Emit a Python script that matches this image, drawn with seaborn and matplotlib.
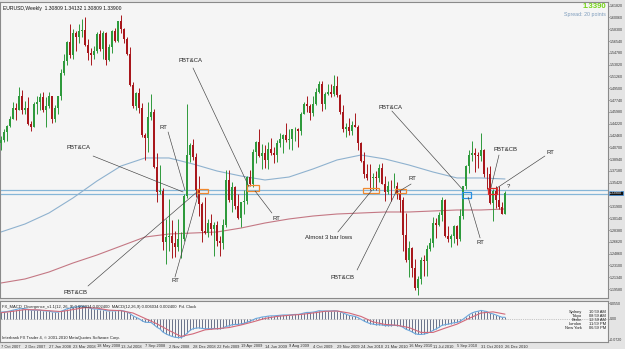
import numpy as np
import pandas as pd
import matplotlib
matplotlib.use("Agg")
import matplotlib.pyplot as plt
import matplotlib.transforms as mtransforms
from matplotlib.patches import Rectangle
import seaborn as sns

# ---------------- data (EURUSD weekly) ----------------
opens = [
1.4130,1.4185,1.4295,1.4390,1.4500,1.4660,1.4630,1.4830,1.4630,1.4650,
1.4420,1.4380,1.4720,1.4750,1.4815,1.4620,1.4680,1.4830,1.4500,1.4660,
1.4830,1.5180,1.5350,1.5640,1.5440,1.5780,1.5720,1.5800,1.5820,1.5600,
1.5470,1.5450,1.5500,1.5760,1.5530,1.5780,1.5370,1.5560,1.5800,1.5650,
1.5950,1.5840,1.5690,1.5460,1.5000,1.4680,1.4880,1.4660,1.4250,1.4210,
1.4520,1.4600,1.3780,1.3410,1.3420,1.2660,1.2740,1.2750,1.2650,1.2590,
1.2700,1.2710,1.3340,1.3950,1.4100,1.3920,1.3440,1.3220,1.2830,1.2800,
1.2950,1.2860,1.2920,1.2670,1.2650,1.2920,1.3580,1.3280,1.3480,1.3200,
1.3020,1.3250,1.3270,1.3630,1.3520,1.4000,1.4150,1.3940,1.3980,1.3880,
1.4040,1.3980,1.3950,1.4130,1.4200,1.4250,1.4180,1.4200,1.4340,1.4350,
1.4310,1.4570,1.4710,1.4680,1.4580,1.4710,1.4900,1.5010,1.4720,1.4870,
1.4900,1.4860,1.4990,1.4850,1.4600,1.4340,1.4380,1.4320,1.4410,1.4380,
1.4140,1.3860,1.3670,1.3620,1.3610,1.3630,1.3620,1.3760,1.3530,1.3400,
1.3500,1.3490,1.3500,1.3380,1.3290,1.2760,1.2390,1.2570,1.2270,1.1970,
1.2110,1.2390,1.2380,1.2560,1.2640,1.2940,1.2910,1.3060,1.3280,1.2750,
1.2710,1.2750,1.2900,1.2710,1.3050,1.3490,1.3790,1.3960,1.3980,1.3950,
1.3940,1.4030,1.3680,1.3670,1.3240,1.3420,1.3290,1.3180,1.3081]
highs = [
1.4240,1.4350,1.4400,1.4530,1.4752,1.4730,1.4967,1.4920,1.4760,1.4815,
1.4470,1.4740,1.4830,1.4875,1.4900,1.4820,1.4890,1.4840,1.4700,1.4840,
1.5240,1.5460,1.5650,1.5904,1.5840,1.5810,1.5910,1.5985,1.6019,1.5690,
1.5550,1.5580,1.5790,1.5820,1.5800,1.5790,1.5610,1.5820,1.5850,1.5960,
1.6038,1.5850,1.5710,1.5570,1.5050,1.4900,1.4950,1.4730,1.4280,1.4740,
1.4867,1.4640,1.3980,1.3800,1.3460,1.3000,1.3300,1.2990,1.2820,1.3000,
1.2810,1.3370,1.4720,1.4130,1.4200,1.3990,1.3650,1.3250,1.3330,1.3000,
1.3070,1.2960,1.2980,1.2750,1.3000,1.3738,1.3740,1.3560,1.3500,1.3370,
1.3260,1.3430,1.3650,1.3740,1.4050,1.4160,1.4340,1.4120,1.4100,1.4150,
1.4210,1.4070,1.4180,1.4280,1.4270,1.4440,1.4340,1.4350,1.4380,1.4360,
1.4590,1.4740,1.4840,1.4720,1.4840,1.4950,1.5060,1.5060,1.4890,1.5020,
1.5010,1.5144,1.5140,1.4860,1.4700,1.4440,1.4510,1.4460,1.4580,1.4400,
1.4150,1.4000,1.3820,1.3820,1.3690,1.3720,1.3820,1.3830,1.3640,1.3570,
1.3590,1.3694,1.3560,1.3440,1.3330,1.3094,1.2670,1.2590,1.2400,1.2160,
1.2430,1.2470,1.2620,1.2720,1.3030,1.3020,1.3110,1.3330,1.3300,1.2900,
1.2780,1.2920,1.2920,1.3150,1.3500,1.3800,1.4030,1.4160,1.4060,1.4000,
1.4282,1.4050,1.3770,1.3790,1.3450,1.3500,1.3500,1.3250,1.3413]
lows = [
1.4030,1.4150,1.4170,1.4380,1.4490,1.4480,1.4620,1.4560,1.4560,1.4400,
1.4310,1.4370,1.4570,1.4630,1.4590,1.4370,1.4650,1.4440,1.4450,1.4570,
1.4780,1.5150,1.5290,1.5400,1.5390,1.5500,1.5620,1.5720,1.5580,1.5370,
1.5290,1.5380,1.5470,1.5500,1.5380,1.5300,1.5350,1.5470,1.5640,1.5640,
1.5780,1.5620,1.5440,1.4990,1.4660,1.4620,1.4580,1.4220,1.3880,1.4000,
1.4480,1.3760,1.3260,1.3370,1.2540,1.2330,1.2520,1.2420,1.2430,1.2520,
1.2420,1.2670,1.3320,1.3850,1.3880,1.3330,1.3050,1.2660,1.2780,1.2740,
1.2760,1.2455,1.2600,1.2455,1.2550,1.2890,1.3250,1.3110,1.3150,1.3000,
1.2890,1.3080,1.3220,1.3500,1.3480,1.3840,1.3920,1.3750,1.3760,1.3750,
1.3960,1.3830,1.3850,1.4070,1.3980,1.4150,1.4050,1.4030,1.4170,1.4080,
1.4260,1.4560,1.4590,1.4480,1.4540,1.4700,1.4880,1.4610,1.4640,1.4850,
1.4820,1.4830,1.4820,1.4570,1.4300,1.4220,1.4260,1.4260,1.4370,1.4030,
1.3850,1.3610,1.3580,1.3440,1.3440,1.3440,1.3560,1.3520,1.3270,1.3380,
1.3270,1.3470,1.3300,1.3114,1.2523,1.2355,1.2143,1.2140,1.1940,1.1876,
1.2040,1.2150,1.2150,1.2520,1.2580,1.2720,1.2900,1.2980,1.2730,1.2660,
1.2590,1.2650,1.2610,1.2680,1.3000,1.3450,1.3690,1.3860,1.3700,1.3760,
1.3860,1.3630,1.3450,1.3220,1.2969,1.3170,1.3150,1.3070,1.3081]
closes = [
1.4185,1.4295,1.4390,1.4500,1.4660,1.4630,1.4830,1.4630,1.4650,1.4420,
1.4380,1.4720,1.4750,1.4815,1.4620,1.4680,1.4830,1.4500,1.4660,1.4830,
1.5180,1.5350,1.5640,1.5440,1.5780,1.5720,1.5800,1.5820,1.5600,1.5470,
1.5450,1.5500,1.5760,1.5530,1.5780,1.5370,1.5560,1.5800,1.5650,1.5950,
1.5840,1.5690,1.5460,1.5000,1.4680,1.4880,1.4660,1.4250,1.4210,1.4520,
1.4600,1.3780,1.3410,1.3420,1.2660,1.2740,1.2750,1.2650,1.2590,1.2700,
1.2710,1.3340,1.3950,1.4100,1.3920,1.3440,1.3220,1.2830,1.2800,1.2950,
1.2860,1.2920,1.2670,1.2650,1.2920,1.3580,1.3280,1.3480,1.3200,1.3020,
1.3250,1.3270,1.3630,1.3520,1.4000,1.4150,1.3940,1.3980,1.3880,1.4040,
1.3980,1.3950,1.4130,1.4200,1.4250,1.4180,1.4200,1.4340,1.4350,1.4310,
1.4570,1.4710,1.4680,1.4580,1.4710,1.4900,1.5010,1.4720,1.4870,1.4900,
1.4860,1.4990,1.4850,1.4600,1.4340,1.4380,1.4320,1.4410,1.4380,1.4140,
1.3860,1.3670,1.3620,1.3610,1.3630,1.3620,1.3760,1.3530,1.3400,1.3500,
1.3490,1.3500,1.3380,1.3290,1.2760,1.2390,1.2570,1.2270,1.1970,1.2110,
1.2390,1.2380,1.2560,1.2640,1.2940,1.2910,1.3060,1.3280,1.2750,1.2710,
1.2750,1.2900,1.2710,1.3050,1.3490,1.3790,1.3960,1.3980,1.3950,1.3940,
1.4030,1.3680,1.3670,1.3240,1.3420,1.3290,1.3180,1.3081,1.3390]

week_labels = ["7 Oct 2007", "2 Dec 2007", "27 Jan 2008", "23 Mar 2008", "18 May 2008",
               "13 Jul 2008", "7 Sep 2008", "2 Nov 2008", "28 Dec 2008", "22 Feb 2009",
               "19 Apr 2009", "14 Jun 2009", "9 Aug 2009", "4 Oct 2009", "29 Nov 2009",
               "24 Jan 2010", "21 Mar 2010", "16 May 2010", "11 Jul 2010", "5 Sep 2010",
               "31 Oct 2010", "26 Dec 2010"]
label_weeks = [0, 8, 16, 24, 32, 40, 48, 56, 64, 72, 80, 88, 96, 104, 112, 120,
               128, 136, 144, 152, 160, 168]

# moving averages read every 8 weeks
ma_weeks = label_weeks
ma_blue = [1.2809, 1.2928, 1.3092, 1.3316, 1.3569, 1.3792, 1.3912, 1.3912, 1.3822, 1.3718,
           1.3643, 1.3584, 1.3628, 1.3748, 1.3882, 1.3956, 1.3897, 1.3807, 1.3703, 1.3614,
           1.3614, 1.3599]
ma_red = [1.2049, 1.2109, 1.2213, 1.2347, 1.2466, 1.2600, 1.2734, 1.2779, 1.2794, 1.2809,
          1.2868, 1.2943, 1.3003, 1.3047, 1.3077, 1.3092, 1.3107, 1.3107, 1.3122, 1.3137,
          1.3137, 1.3152]

# MACD panel
macd = [
0.024,0.025,0.026,0.028,0.031,0.033,0.036,0.036,0.036,0.034,
0.031,0.031,0.031,0.031,0.029,0.028,0.028,0.025,0.024,0.024,
0.027,0.031,0.036,0.038,0.041,0.042,0.044,0.045,0.043,0.040,
0.037,0.035,0.035,0.033,0.033,0.029,0.028,0.029,0.028,0.030,
0.030,0.028,0.025,0.019,0.011,0.006,0.001,-0.006,-0.011,-0.012,
-0.012,-0.020,-0.029,-0.035,-0.046,-0.052,-0.057,-0.061,-0.064,-0.065,
-0.065,-0.060,-0.050,-0.040,-0.034,-0.032,-0.031,-0.033,-0.034,-0.034,
-0.034,-0.033,-0.034,-0.034,-0.032,-0.026,-0.024,-0.020,-0.019,-0.019,
-0.017,-0.015,-0.011,-0.008,-0.003,0.002,0.004,0.007,0.008,0.010,
0.011,0.011,0.012,0.013,0.014,0.014,0.014,0.015,0.016,0.016,
0.018,0.021,0.023,0.023,0.024,0.026,0.029,0.028,0.028,0.028,
0.028,0.029,0.028,0.026,0.021,0.017,0.013,0.011,0.009,0.005,
-0.001,-0.007,-0.012,-0.016,-0.018,-0.020,-0.020,-0.021,-0.023,-0.023,
-0.023,-0.022,-0.023,-0.024,-0.029,-0.036,-0.040,-0.045,-0.051,-0.054,
-0.054,-0.053,-0.050,-0.046,-0.040,-0.035,-0.029,-0.022,-0.020,-0.018,
-0.016,-0.013,-0.012,-0.008,-0.001,0.007,0.015,0.021,0.025,0.027,
0.030,0.028,0.026,0.020,0.018,0.014,0.010,0.006,0.006]
signal_weeks = list(range(0, 169, 4))
signal = [0.022, 0.027, 0.033, 0.032, 0.029, 0.026, 0.033, 0.040, 0.038, 0.031,
          0.029, 0.021, 0.002, -0.017, -0.040, -0.061, -0.052, -0.038, -0.034, -0.030,
          -0.021, -0.010, 0.002, 0.009, 0.013, 0.016, 0.021, 0.027, 0.028, 0.021,
          0.009, -0.010, -0.019, -0.022, -0.030, -0.047, -0.047, -0.032, -0.018, 0.002,
          0.021, 0.025, 0.017]

price_ticks = [1.19580, 1.21340, 1.23100, 1.24860, 1.26620, 1.28380, 1.30140, 1.31900,
               1.35420, 1.37180, 1.38940, 1.40700, 1.42460, 1.44220, 1.45980, 1.47740,
               1.49500, 1.51260, 1.53020, 1.54780, 1.56540, 1.58300, 1.60060, 1.61820]
price_tick_labels = ["%.5f" % v for v in price_ticks]
current_price = 1.33900
zone_levels = [1.3435, 1.3375]

boxes = [  # (week from, week to, price low, price high, colour)
    (65.3, 69.0, 1.3390, 1.3450, '#f08a30'),
    (82.0, 86.0, 1.3420, 1.3510, '#f08a30'),
    (120.7, 126.0, 1.3390, 1.3465, '#f08a30'),
    (131.3, 135.0, 1.3390, 1.3450, '#f08a30'),
    (153.7, 156.7, 1.3315, 1.3405, '#2a8fe0'),
    (162.3, 165.3, 1.3375, 1.3465, '#e02a2a'),
]
notes = [  # text, text week, text price, line from (week, price), line to (week, price)
    ("PBT&CA", 26.0, 1.4075, (30.7, 1.3941), (60.7, 1.3405)),
    ("RT", 54.0, 1.4373, (55.7, 1.4299), (61.3, 1.3435)),
    ("PBT&CB", 25.0, 1.1900, (29.0, 1.2004), (65.3, 1.3405)),
    ("RT", 58.3, 1.2079, (58.0, 1.2138), (65.7, 1.3360)),
    ("PBT&CA", 63.3, 1.5357, (64.0, 1.5253), (82.7, 1.3479)),
    ("RT", 91.7, 1.3017, (90.3, 1.3092), (84.7, 1.3420)),
    ("Almost 3 bar lows", 109.3, 1.2720, (112.3, 1.2809), (123.7, 1.3435)),
    ("PBT&CB", 113.7, 1.2138, (118.7, 1.2243), (132.0, 1.3435)),
    ("RT", 137.3, 1.3599, (136.7, 1.3524), (132.3, 1.3405)),
    ("PBT&CA", 129.7, 1.4671, (130.3, 1.4612), (153.7, 1.3450)),
    ("RT", 159.7, 1.2645, (159.7, 1.2720), (155.7, 1.3330)),
    ("PBT&CB", 168.3, 1.4031, (166.0, 1.3956), (163.3, 1.3465)),
    ("RT", 183.0, 1.3986, (181.3, 1.3941), (165.3, 1.3465)),
    ("?", 169.3, 1.3480, None, None),
]
clock_names = ["Sydney", "Tokyo", "Berlin", "London", "New York"]
clock_times = ["10:59 AM", "08:59 AM", "12:59 AM", "11:59 PM", "06:59 PM"]

# ---------------- drawing ----------------
sns.set_style("white")
plt.rcParams['font.family'] = ['Liberation Sans', 'DejaVu Sans']

W, H = 625, 349
RIGHT = 608
def fx(px):
    return px / W
def fy(py):
    return 1 - py / H

UP, DOWN = '#2e9a3c', '#a8171c'
BG = '#f5f5f5'

fig = plt.figure(figsize=(W / 100, H / 100), dpi=100, facecolor='#e4e4e4')
ax = fig.add_axes([0, fy(298), fx(RIGHT), (298 - 2) / H], facecolor=BG)
axm = fig.add_axes([0, fy(342), fx(RIGHT), (342 - 301) / H], facecolor=BG)
xmax = -0.33 + RIGHT / 3

df = pd.DataFrame({'week': np.arange(len(closes)), 'open': opens, 'high': highs,
                   'low': lows, 'close': closes})
cols = np.where(df['close'] >= df['open'], UP, DOWN)
ax.vlines(df['week'], df['low'], df['high'], colors=cols, linewidth=0.7, zorder=3)
body_bottom = np.minimum(df['open'], df['close'])
body_h = np.maximum(np.abs(df['close'] - df['open']), 0.0009)
ax.bar(df['week'], body_h, bottom=body_bottom, width=0.68, color=cols, linewidth=0, zorder=4)

ma_df = pd.DataFrame({'week': ma_weeks, 'blue': ma_blue, 'red': ma_red})
sns.lineplot(data=ma_df, x='week', y='blue', ax=ax, color='#8fb2cf', linewidth=0.8, zorder=2)
sns.lineplot(data=ma_df, x='week', y='red', ax=ax, color='#c47884', linewidth=0.8, zorder=2)

for lv in zone_levels:
    ax.axhline(lv, color='#86b6d8', linewidth=0.9, zorder=1)

for (w0, w1, p0, p1, c) in boxes:
    ax.add_patch(Rectangle((w0, p0), w1 - w0, p1 - p0, facecolor='none',
                           edgecolor=c, linewidth=0.9, zorder=5))

for (t, tw, tp, a, b) in notes:
    ax.text(tw, tp, t, fontsize=4.3, ha='center', va='center', color='#222222', zorder=6)
    if a is not None:
        ax.plot([a[0], b[0]], [a[1], b[1]], color='#404040', linewidth=0.45, zorder=5)

ax.set_xlim(-0.33, xmax)
ax.set_ylim(1.18255, 1.62359)
ax.set_xlabel('')
ax.set_ylabel('')
ax.set_xticks([])
ax.yaxis.tick_right()
ax.set_yticks(price_ticks)
ax.set_yticklabels(price_tick_labels)
ax.tick_params(axis='y', labelsize=2.6, length=0.9, pad=0.3, colors='#333333', width=0.5)
for s in ax.spines.values():
    s.set_color('#8a8a8a')
    s.set_linewidth(0.8)

trans = mtransforms.blended_transform_factory(ax.transAxes, ax.transData)
ax.text(1.002, current_price, "%.5f" % current_price, transform=trans, fontsize=2.6,
        color='white', va='center', ha='left', clip_on=False,
        bbox=dict(boxstyle='square,pad=0.1', facecolor='#101010', edgecolor='#3a8ee0', linewidth=0.5))

ax.text(fx(3) / fx(RIGHT), 0.985, "EURUSD,Weekly  1.30809 1.34132 1.30809 1.33900",
        transform=ax.transAxes, fontsize=3.6, ha='left', va='top', color='#111111')
fig.text(fx(606), fy(7), "1.3390", fontsize=5.6, fontweight='bold', color='#74d417',
         ha='right', va='center')
fig.text(fx(606), fy(14.5), "Spread: 20 points", fontsize=3.8, color='#7d9cbc',
         ha='right', va='center')

# MACD panel
axm.vlines(np.arange(len(macd)), 0, macd, colors='#46506e', linewidth=0.55, zorder=2)
sns.lineplot(x=np.arange(len(macd)), y=macd, ax=axm, color='#6aa6dc', linewidth=0.8, zorder=3)
sns.lineplot(x=signal_weeks, y=signal, ax=axm, color='#d2697a', linewidth=0.8, zorder=3)
axm.axhline(0, color='#9a9a9a', linewidth=0.5, linestyle=':', zorder=1)
axm.set_xlim(-0.33, xmax)
axm.set_ylim(-0.0805, 0.063)
axm.set_xlabel('')
axm.set_ylabel('')
axm.yaxis.tick_right()
axm.set_yticks([0.055, 0.0, -0.072])
axm.set_yticklabels(["0.0550", "0.00", "-0.0720"])
axm.tick_params(axis='y', labelsize=2.6, length=0.9, pad=0.3, colors='#333333', width=0.5)
axm.set_xticks(label_weeks)
axm.set_xticklabels(week_labels, ha='left')
axm.tick_params(axis='x', labelsize=2.9, length=1.2, pad=0.6, colors='#333333', width=0.5)
for s in axm.spines.values():
    s.set_color('#8a8a8a')
    s.set_linewidth(0.8)

axm.text(0.004, 0.86, "FX_MACD_Divergence_v1.1(12, 26, 9) 0.006034 0.002400  MACD(12,26,9) 0.006034 0.002400  Pd. Clock",
         transform=axm.transAxes, fontsize=3.0, ha='left', va='center', color='#222222')
axm.text(0.004, 0.09, "Interbank FX Trader 4, \u00a9 2001-2010 MetaQuotes Software Corp.",
         transform=axm.transAxes, fontsize=3.0, ha='left', va='center', color='#222222')

for k, (nm, tm) in enumerate(zip(clock_names, clock_times)):
    yy = 312.3 + k * 3.9
    fig.text(fx(582), fy(yy), nm, fontsize=2.9, ha='right', va='center', color='#1a1a1a')
    fig.text(fx(606), fy(yy), tm, fontsize=2.9, ha='right', va='center', color='#1a1a1a')

fig.savefig("out.png", dpi=100, facecolor=fig.get_facecolor())
